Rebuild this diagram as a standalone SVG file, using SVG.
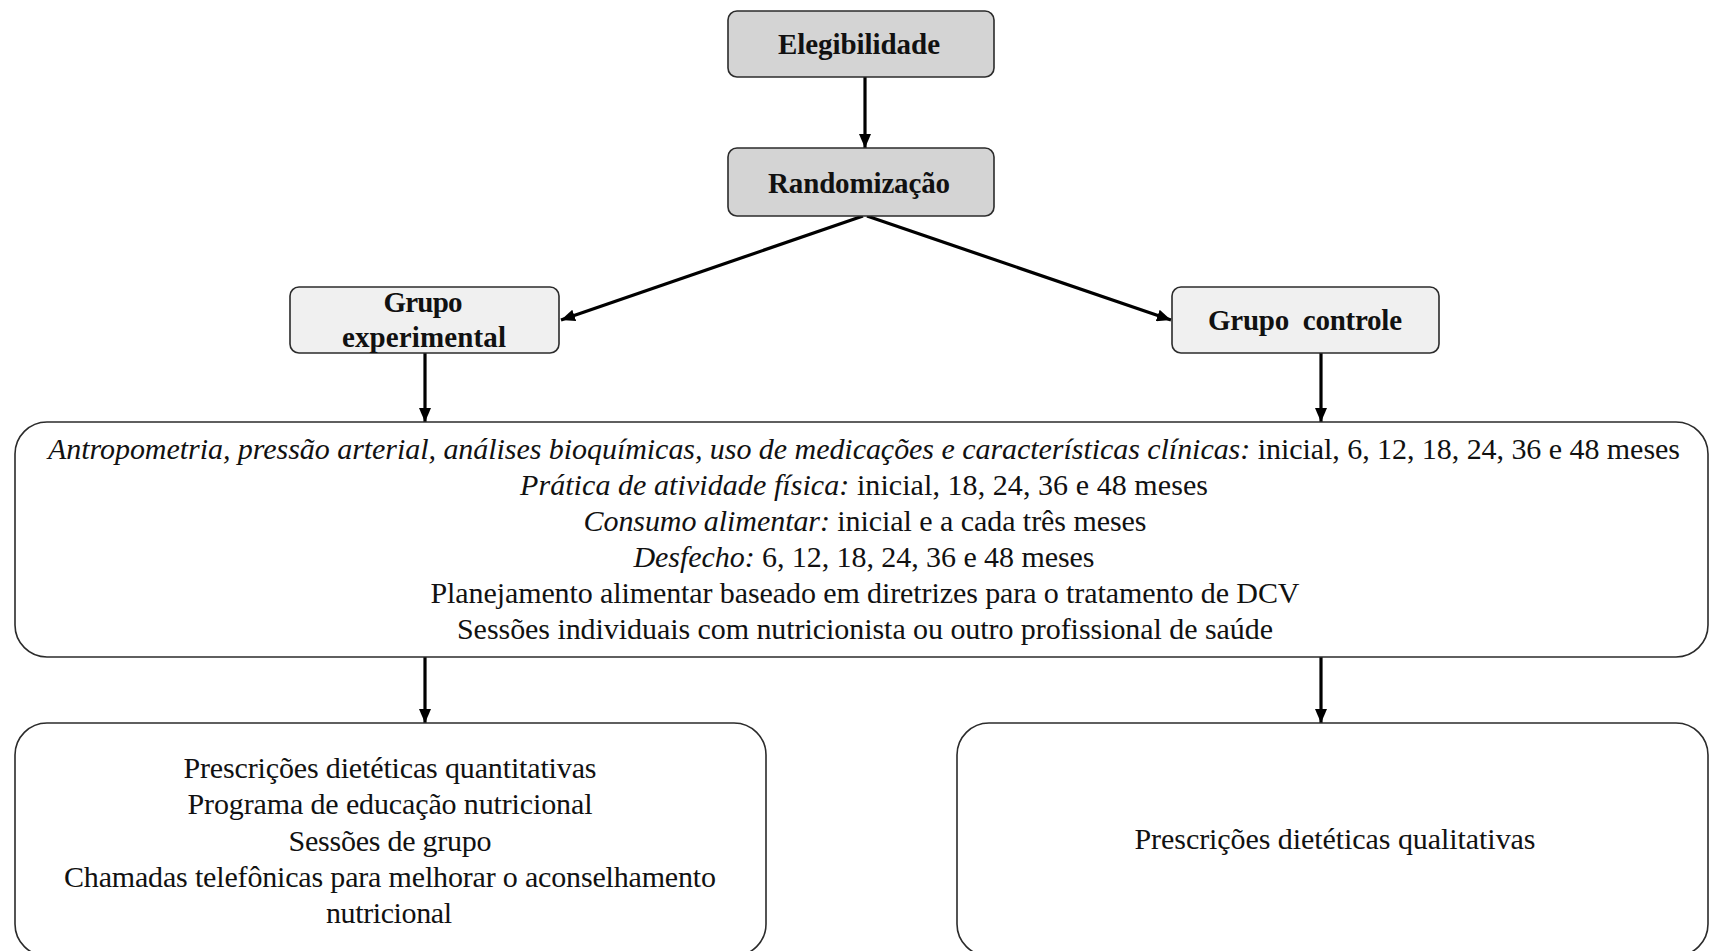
<svg xmlns="http://www.w3.org/2000/svg" width="1709" height="951" viewBox="0 0 1709 951">
<style>
.bg{fill:#ffffff}
.dark{fill:#d4d4d4;stroke:#2b2b2b;stroke-width:1.6}
.light{fill:#f0f0f0;stroke:#2b2b2b;stroke-width:1.6}
.white{fill:#ffffff;stroke:#2b2b2b;stroke-width:1.6}
.b{font-family:"Liberation Serif","Times New Roman",serif;font-weight:bold;font-size:29px;fill:#111;text-anchor:middle}
.t{font-family:"Liberation Serif","Times New Roman",serif;font-size:30px;fill:#111;text-anchor:middle}
.i{font-style:italic}
.conn{stroke:#000;stroke-width:3.2;fill:none}
</style>
<defs>
<marker id="ah" viewBox="0 0 14 12" refX="14" refY="6" markerWidth="14" markerHeight="12" markerUnits="userSpaceOnUse" orient="auto">
<path d="M0,0 L14,6 L0,12 z" fill="#000"/>
</marker>
</defs>
<rect class="bg" x="0" y="0" width="1709" height="951"/>

<g id="connectors">
<line class="conn" x1="865" y1="77" x2="865" y2="148" marker-end="url(#ah)"/>
<line class="conn" x1="863" y1="216" x2="561" y2="320" marker-end="url(#ah)"/>
<line class="conn" x1="867" y1="216" x2="1171" y2="320" marker-end="url(#ah)"/>
<line class="conn" x1="425" y1="353" x2="425" y2="422" marker-end="url(#ah)"/>
<line class="conn" x1="1321" y1="353" x2="1321" y2="422" marker-end="url(#ah)"/>
<line class="conn" x1="425" y1="657" x2="425" y2="723" marker-end="url(#ah)"/>
<line class="conn" x1="1321" y1="657" x2="1321" y2="723" marker-end="url(#ah)"/>
</g>

<g id="elegibilidade">
<rect class="dark" x="728" y="11" width="266" height="66" rx="9"/>
<text class="b" x="859" y="54" textLength="162">Elegibilidade</text>
</g>

<g id="randomizacao">
<rect class="dark" x="728" y="148" width="266" height="68" rx="9"/>
<text class="b" x="859" y="193" textLength="182">Randomização</text>
</g>

<g id="grupo-experimental">
<rect class="light" x="290" y="287" width="269" height="66" rx="9"/>
<text class="b" x="423" y="312" textLength="79">Grupo</text>
<text class="b" x="424" y="347" textLength="164">experimental</text>
</g>

<g id="grupo-controle">
<rect class="light" x="1172" y="287" width="267" height="66" rx="9"/>
<text class="b" x="1305" y="330" textLength="194" xml:space="preserve">Grupo  controle</text>
</g>

<g id="avaliacoes">
<rect class="white" x="15" y="422" width="1693" height="235" rx="32"/>
<text class="t" x="864" y="459" textLength="1632"><tspan class="i">Antropometria, pressão arterial, análises bioquímicas, uso de medicações e características clínicas:</tspan> inicial, 6, 12, 18, 24, 36 e 48 meses</text>
<text class="t" x="864" y="495" textLength="688"><tspan class="i">Prática de atividade física:</tspan> inicial, 18, 24, 36 e 48 meses</text>
<text class="t" x="865" y="531" textLength="563"><tspan class="i">Consumo alimentar:</tspan> inicial e a cada três meses</text>
<text class="t" x="864" y="567" textLength="461"><tspan class="i">Desfecho:</tspan> 6, 12, 18, 24, 36 e 48 meses</text>
<text class="t" x="865" y="603" textLength="869">Planejamento alimentar baseado em diretrizes para o tratamento de DCV</text>
<text class="t" x="865" y="639" textLength="816">Sessões individuais com nutricionista ou outro profissional de saúde</text>
</g>

<g id="intervencao-experimental">
<rect class="white" x="15" y="723" width="751" height="233" rx="32"/>
<text class="t" x="390" y="778" textLength="413">Prescrições dietéticas quantitativas</text>
<text class="t" x="390" y="814" textLength="405">Programa de educação nutricional</text>
<text class="t" x="390" y="851" textLength="203">Sessões de grupo</text>
<text class="t" x="390" y="887" textLength="652">Chamadas telefônicas para melhorar o aconselhamento</text>
<text class="t" x="389" y="923" textLength="126">nutricional</text>
</g>

<g id="intervencao-controle">
<rect class="white" x="957" y="723" width="751" height="233" rx="32"/>
<text class="t" x="1335" y="849" textLength="401">Prescrições dietéticas qualitativas</text>
</g>
</svg>
